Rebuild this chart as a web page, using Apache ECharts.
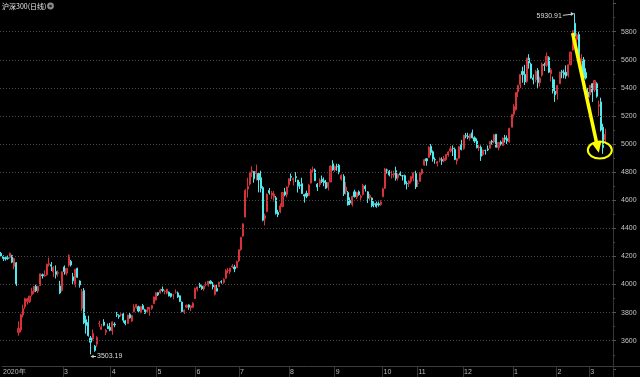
<!DOCTYPE html>
<html><head><meta charset="utf-8">
<script src="https://cdn.jsdelivr.net/npm/echarts@6/dist/echarts.min.js"></script>
<style>html,body{margin:0;padding:0;background:#000;}#c{width:640px;height:377px;}</style>
</head><body><div id="c"></div>
<script>
// ---- Data (CSI 300 daily, 2020-01-14 .. 2021-03-10) ----
const monthDays = [
  ['2020-01', [14,15,16,17,20,21,22,23]],
  ['2020-02', [3,4,5,6,7,10,11,12,13,14,17,18,19,20,21,24,25,26,27,28]],
  ['2020-03', [2,3,4,5,6,9,10,11,12,13,16,17,18,19,20,23,24,25,26,27,30,31]],
  ['2020-04', [1,2,3,7,8,9,10,13,14,15,16,17,20,21,22,23,24,27,28,29,30]],
  ['2020-05', [6,7,8,11,12,13,14,15,18,19,20,21,22,25,26,27,28,29]],
  ['2020-06', [1,2,3,4,5,8,9,10,11,12,15,16,17,18,19,22,23,24,29,30]],
  ['2020-07', [1,2,3,6,7,8,9,10,13,14,15,16,17,20,21,22,23,24,27,28,29,30,31]],
  ['2020-08', [3,4,5,6,7,10,11,12,13,14,17,18,19,20,21,24,25,26,27,28,31]],
  ['2020-09', [1,2,3,4,7,8,9,10,11,14,15,16,17,18,21,22,23,24,25,28,29,30]],
  ['2020-10', [9,12,13,14,15,16,19,20,21,22,23,26,27,28,29,30]],
  ['2020-11', [2,3,4,5,6,9,10,11,12,13,16,17,18,19,20,23,24,25,26,27,30]],
  ['2020-12', [1,2,3,4,7,8,9,10,11,14,15,16,17,18,21,22,23,24,25,28,29,30,31]],
  ['2021-01', [4,5,6,7,8,11,12,13,14,15,18,19,20,21,22,25,26,27,28,29]],
  ['2021-02', [1,2,3,4,5,8,9,10,18,19,22,23,24,25,26]],
  ['2021-03', [1,2,3,4,5,8,9,10]]
];
const openVals = [
  4222,4200,4192,4190,4192,4206,4126,4155,
  3659,3676,3783,3842,3880,3878,3929,3947,3988,3952,3993,4070,4060,4069,4142,4141,4090,4092,4080,3990,
  3958,4125,4080,4138,4165,4055,4000,4115,4025,3830,3958,3750,3730,3620,3612,3561,3575,3720,3680,3732,3660,3702,
  3695,3669,3718,3786,3779,3784,3791,3742,3722,3788,3740,3805,3837,3842,3800,3850,3820,3806,3823,3830,3864,
  3890,3942,3940,3965,3951,3938,3946,3935,3925,3945,3940,3920,3875,3806,3838,3855,3836,3838,
  3900,3966,3998,3988,3968,4000,3995,4024,4004,3930,3972,3985,4020,4015,4045,4099,4090,4125,4125,4120,
  4168,4250,4345,4480,4680,4715,4800,4804,4788,4790,4760,4690,4470,4520,4670,4635,4620,4617,4515,4517,4555,4660,4642,
  4710,4770,4745,4768,4743,4710,4718,4640,4649,4633,4722,4815,4815,4715,4710,4750,4738,4728,4692,4730,4860,
  4815,4840,4850,4750,4770,4661,4655,4600,4570,4660,4622,4660,4620,4640,4700,4660,4617,4616,4575,4577,4575,4570,
  4625,4685,4816,4806,4780,4780,4810,4760,4790,4774,4775,4720,4718,4735,4756,4790,
  4720,4735,4790,4850,4895,4905,4985,4945,4890,4862,4885,4890,4880,4888,4922,4950,4970,4962,4880,4900,4995,
  4967,5060,5055,5042,5080,5045,5022,4972,4977,4925,4955,4965,4970,5020,5015,5070,4975,5015,4990,5045,5040,5015,5120,
  5212,5245,5372,5422,5517,5496,5446,5612,5570,5471,5458,5525,5437,5490,5566,5560,5615,5500,5460,5376,
  5360,5430,5515,5510,5512,5490,5565,5670,5860,5745,5780,5575,5600,5510,5370,
  5350,5430,5385,5430,5270,5300,5120,5030
];
const closeVals = [
  4203,4186,4182,4186,4223,4159,4186,4004,
  3688,3785,3829,3899,3899,3917,3953,3987,3956,3987,4077,4062,4065,4145,4149,4131,4123,4072,4084,3940,
  4091,4092,4115,4207,4139,4026,4109,4052,3997,3952,3727,3709,3636,3589,3653,3531,3622,3722,3698,3710,3675,3686,
  3675,3734,3713,3783,3771,3786,3746,3722,3783,3762,3780,3839,3858,3811,3844,3824,3796,3819,3838,3851,3912,
  3942,3926,3960,3958,3952,3967,3919,3914,3926,3945,3911,3880,3808,3817,3852,3838,3848,3867,
  3971,3983,3984,3970,3990,4000,4024,4008,3983,3996,3953,4016,4018,4036,4099,4103,4117,4132,4111,4164,
  4248,4335,4432,4671,4698,4798,4810,4753,4807,4745,4685,4458,4490,4643,4652,4652,4644,4505,4497,4560,4655,4638,4695,
  4753,4764,4755,4761,4700,4703,4648,4630,4628,4709,4812,4818,4739,4694,4744,4732,4725,4686,4726,4843,4816,
  4841,4838,4797,4776,4646,4694,4567,4580,4628,4625,4655,4640,4630,4707,4681,4614,4634,4560,4570,4555,4567,4587,
  4681,4823,4814,4780,4784,4793,4756,4783,4780,4773,4718,4717,4737,4768,4795,4695,
  4721,4792,4820,4889,4880,4978,4940,4893,4887,4875,4896,4879,4897,4926,4944,4966,4968,4890,4895,4981,4960,
  5064,5056,5049,5071,5044,5021,4973,4979,4913,4957,4955,4959,5018,5014,5066,4978,5011,4997,5043,5034,5021,5113,5211,
  5267,5368,5419,5496,5495,5443,5612,5577,5470,5458,5518,5437,5469,5570,5560,5625,5512,5528,5379,5351,
  5418,5513,5511,5493,5484,5564,5655,5807,5768,5779,5597,5610,5470,5470,5336,
  5418,5370,5452,5340,5280,5100,4975,5070
];
const lowVals = [
  4195,4168,4170,4176,4185,4152,4108,3990,
  3636,3660,3766,3826,3857,3868,3915,3933,3946,3939,3990,4042,4056,4062,4128,4096,4054,4043,4056,3932,
  3950,4070,4065,4125,4128,4003,3980,4048,3978,3810,3718,3650,3629,3503.19,3600,3521,3556,3698,3678,3703,3640,3683,
  3667,3642,3696,3768,3756,3772,3728,3710,3721,3757,3734,3803,3827,3798,3795,3821,3790,3802,3778,3820,3862,
  3886,3918,3935,3945,3930,3930,3915,3907,3895,3935,3905,3875,3802,3790,3833,3820,3810,3832,
  3898,3952,3976,3962,3955,3988,3985,3998,3965,3922,3950,3985,4006,4005,4040,4080,4075,4118,4088,4118,
  4160,4240,4339,4478,4619,4704,4766,4725,4740,4656,4656,4450,4420,4515,4640,4608,4590,4498,4480,4508,4550,4628,4620,
  4690,4735,4705,4730,4655,4680,4645,4583,4615,4630,4720,4795,4737,4666,4694,4722,4700,4680,4670,4730,4810,
  4802,4810,4785,4740,4630,4640,4562,4565,4556,4620,4607,4632,4592,4634,4661,4580,4597,4550,4550,4547,4555,4560,
  4624,4680,4790,4770,4755,4760,4740,4740,4773,4740,4710,4677,4694,4720,4735,4680,
  4695,4730,4780,4845,4846,4900,4920,4875,4860,4840,4870,4852,4870,4880,4910,4940,4915,4885,4855,4895,4955,
  4960,5040,5035,5025,5040,5008,4970,4950,4880,4915,4925,4950,4970,4996,5005,4975,4955,4988,4985,5010,5000,5010,5120,
  5190,5238,5335,5398,5437,5420,5435,5537,5466,5425,5440,5400,5410,5480,5520,5550,5505,5446,5360,5300,
  5318,5430,5468,5468,5465,5475,5560,5665,5740,5715,5585,5530,5465,5460,5315,
  5330,5300,5370,5330,5200,5090,4930,5000
];
const highVals = [
  4232,4208,4199,4206,4228,4212,4191,4160,
  3738,3792,3856,3906,3905,3921,3977,3988,3999,3991,4078,4078,4101,4148,4191,4160,4130,4136,4101,4026,
  4093,4136,4117,4215,4176,4083,4112,4120,4030,3968,3975,3778,3778,3634,3680,3570,3632,3742,3720,3753,3683,3722,
  3727,3737,3732,3805,3788,3796,3803,3748,3785,3798,3783,3860,3862,3850,3846,3862,3827,3840,3840,3853,3914,
  3944,3945,3970,3986,3960,3968,3950,3940,3934,3965,3950,3922,3880,3822,3858,3860,3852,3874,
  3978,3985,4012,3995,3992,4020,4025,4030,4018,3998,4003,4020,4030,4045,4110,4118,4118,4145,4140,4170,
  4250,4340,4435,4679,4760,4803,4842,4807,4854,4792,4810,4700,4505,4648,4687,4667,4666,4630,4532,4578,4656,4688,4698,
  4756,4790,4762,4800,4745,4730,4760,4645,4668,4715,4823,4840,4826,4722,4756,4776,4762,4745,4730,4849,4885,
  4848,4860,4858,4785,4785,4730,4666,4620,4632,4675,4660,4670,4640,4716,4710,4665,4645,4620,4593,4590,4590,4600,
  4690,4830,4825,4815,4810,4810,4839,4792,4805,4780,4783,4735,4742,4772,4800,4810,
  4745,4800,4825,4895,4900,4985,5000,4955,4905,4880,4905,4905,4915,4928,4950,4985,4990,4975,4900,4985,5030,
  5065,5080,5080,5072,5103,5055,5040,4996,4990,4960,4960,4990,5022,5030,5070,5070,5015,5025,5045,5065,5062,5115,5212,
  5284,5368,5420,5498,5551,5564,5615,5640,5580,5495,5528,5540,5480,5580,5580,5651,5625,5542,5480,5460,
  5420,5515,5528,5530,5560,5567,5656,5810,5930.91,5790,5800,5640,5620,5540,5400,
  5420,5435,5455,5440,5310,5330,5145,5110
];
const yTickValues = [3600,3800,4000,4200,4400,4600,4800,5000,5200,5400,5600,5800];
const chartTitle = '沪深300(日线)';
// annotation anchors (category index, value) for the hand-drawn yellow arrow / ellipse
const yellowArrowFrom = [262, 5790];
const yellowArrowTo = [274, 4938];
const yellowRingAt = [274, 4957];

// ---- Build ----
const cats = [];
monthDays.forEach(([ym, days]) => days.forEach(d => cats.push(ym + '-' + String(d).padStart(2, '0'))));
const xCats = cats.concat(['', '', '']);
const ohlc = cats.map((_, i) => [openVals[i], closeVals[i], lowVals[i], highVals[i]]);
const isMonthStart = (i) => i < cats.length && i > 0 && cats[i].slice(0, 7) !== cats[i - 1].slice(0, 7);
// first label shows the year; the month right after it is skipped (no room), as in the reference
const showLabel = (i) => i === 0 || (isMonthStart(i) && i > 12);

const chart = echarts.init(document.getElementById('c'), null, {renderer: 'canvas'});
const FONT = '"Liberation Sans", Arial, sans-serif';
chart.setOption({
  backgroundColor: '#000',
  animation: false,
  grid: [
    {left: 0, right: 27, top: 3.6, bottom: 8.2},
    {left: 0, right: 27, bottom: 11, height: 10}
  ],
  xAxis: [
    {type: 'category', data: xCats, gridIndex: 0, show: false, boundaryGap: true},
    {type: 'category', data: xCats, gridIndex: 1, boundaryGap: true,
     axisLine: {show: true, lineStyle: {color: '#3c3c3c', width: 1}},
     axisTick: {show: true, interval: (i) => i > 0 && showLabel(i), length: 11, lineStyle: {color: '#363636'}},
     axisLabel: {interval: (i) => showLabel(i), align: 'left', margin: 3, color: '#bdbdbd',
       fontSize: 7, fontFamily: FONT, hideOverlap: false,
       formatter: (v, i) => i === 0 ? v.slice(0, 4) + '年' : String(parseInt(v.slice(5, 7), 10))},
     splitLine: {show: false}}
  ],
  yAxis: [
    {type: 'value', gridIndex: 0, position: 'right', min: 3400, max: 6000, interval: 200,
     axisLine: {show: true, lineStyle: {color: '#363636'}},
     axisTick: {show: true, length: 3, lineStyle: {color: '#555'}},
     minorTick: {show: true, splitNumber: 2, length: 2, lineStyle: {color: '#444'}},
     axisLabel: {showMinLabel: false, showMaxLabel: false, margin: 8, color: '#c4c4c4', fontSize: 7, fontFamily: FONT,
       formatter: (v) => String(v)},
     splitLine: {show: false}},
    {type: 'value', gridIndex: 1, show: false}
  ],
  series: [{
    type: 'candlestick', xAxisIndex: 0, yAxisIndex: 0, data: ohlc, barWidth: 1.6,
    itemStyle: {color: '#b8262c', borderColor: '#d8323a', color0: '#4fe9ee', borderColor0: '#4fe9ee', borderWidth: 1},
    markLine: {
      silent: true, symbol: 'none', animation: false,
      label: {show: false},
      lineStyle: {color: '#4a4a4a', type: [1, 2], width: 1},
      data: yTickValues.map(v => ({yAxis: v}))
    }
  }]
});

// ---- Annotations (positions derived from data via the axes) ----
const toPx = (p) => chart.convertToPixel({seriesIndex: 0}, p);
let iMax = 0, iMin = 0;
highVals.forEach((v, i) => { if (v > highVals[iMax]) iMax = i; });
lowVals.forEach((v, i) => { if (v < lowVals[iMin]) iMin = i; });
const [mx, my] = toPx([iMax, highVals[iMax]]);
const [nx, ny] = toPx([iMin, lowVals[iMin]]);
const [sx, sy] = toPx(yellowArrowFrom);
const [ex, ey] = toPx(yellowArrowTo);
const [rx, ry] = toPx(yellowRingAt);
const dx = ex - sx, dy = ey - sy, L = Math.hypot(dx, dy), ux = dx / L, uy = dy / L;
const headLen = 11, headW = 5;
const bx = ex - ux * headLen, by = ey - uy * headLen;
const plot = chart.getModel().getComponent('grid', 0).coordinateSystem.getRect();
const axisRight = plot.x + plot.width;

chart.setOption({
  graphic: [
    {type: 'text', x: 2, y: 6, style: {text: chartTitle, fill: '#e6e6e6', font: '7px "Noto Sans CJK SC", sans-serif', verticalAlign: 'middle'}},
    {type: 'circle', shape: {cx: 50.5, cy: 6, r: 3.4}, style: {fill: '#8a8a8a'}},
    {type: 'circle', shape: {cx: 50.5, cy: 6, r: 1.3}, style: {fill: '#1a1a1a'}},
    // right axis line extension & x axis line extension
    {type: 'line', shape: {x1: axisRight + 0.5, y1: 0, x2: axisRight + 0.5, y2: 377}, style: {stroke: '#363636', lineWidth: 1}},
    {type: 'line', shape: {x1: axisRight, y1: 366.5, x2: 640, y2: 366.5}, style: {stroke: '#3c3c3c', lineWidth: 1}},
    // max label
    {type: 'text', x: mx - 13, y: my + 2.5, style: {text: highVals[iMax].toFixed(2), fill: '#dcdcdc', font: '7px ' + FONT, align: 'right', verticalAlign: 'middle'}},
    {type: 'polyline', shape: {points: [[mx - 12, my + 2], [mx - 3, my + 1]]}, style: {stroke: '#cfcfcf', lineWidth: 1}},
    {type: 'polygon', shape: {points: [[mx - 0.5, my + 0.5], [mx - 4, my - 1.2], [mx - 4, my + 2.6]]}, style: {fill: '#cfcfcf'}},
    // min label
    {type: 'text', x: nx + 6.5, y: ny + 2.2, style: {text: lowVals[iMin].toFixed(2), fill: '#dcdcdc', font: '7px ' + FONT, align: 'left', verticalAlign: 'middle'}},
    {type: 'polyline', shape: {points: [[nx + 5.5, ny + 2.2], [nx + 2.5, ny + 2.2]]}, style: {stroke: '#cfcfcf', lineWidth: 1}},
    {type: 'polygon', shape: {points: [[nx, ny + 2.2], [nx + 3, ny + 0.5], [nx + 3, ny + 3.9]]}, style: {fill: '#cfcfcf'}},
    // yellow arrow + ring
    {type: 'line', z: 100, shape: {x1: sx, y1: sy, x2: bx, y2: by}, style: {stroke: '#ffff00', lineWidth: 3.5}},
    {type: 'polygon', z: 100, shape: {points: [[ex, ey], [bx - uy * headW, by + ux * headW], [bx + uy * headW, by - ux * headW]]}, style: {fill: '#ffff00'}},
    {type: 'ellipse', z: 100, shape: {cx: rx + 1, cy: ry, rx: 12, ry: 8.5}, style: {stroke: '#ffff00', fill: null, lineWidth: 2}}
  ]
});
</script>
</body></html>
